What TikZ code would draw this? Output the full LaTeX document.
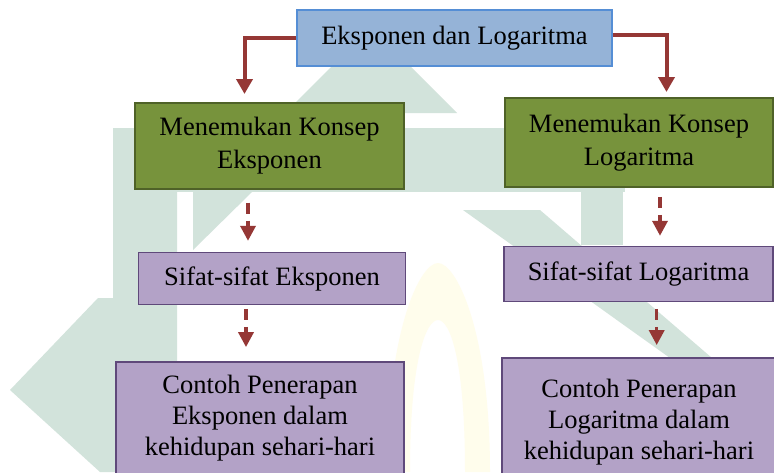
\documentclass[tikz,border=0pt]{standalone}
\usepackage{fontspec}
\setmainfont{Liberation Serif}
\usetikzlibrary{arrows.meta}
\definecolor{judulblue}{RGB}{149,179,215}
\definecolor{judulline}{RGB}{85,142,213}
\definecolor{konsepgreen}{RGB}{119,147,60}
\definecolor{konsepline}{RGB}{79,98,40}
\definecolor{sifatpurple}{RGB}{179,162,199}
\definecolor{sifatline}{RGB}{95,73,122}
\definecolor{panahred}{RGB}{149,55,53}
\definecolor{markteal}{RGB}{210,227,219}
\definecolor{markyellow}{RGB}{255,253,236}

\begin{document}
\begin{tikzpicture}[x=1pt,y=-1pt,
    kotak/.style={draw,line width=1.8pt,align=center,inner sep=0pt,font=\fontsize{26.5}{33}\selectfont},
    judul/.style={kotak,fill=judulblue,draw=judulline},
    konsep/.style={kotak,fill=konsepgreen,draw=konsepline},
    sifat/.style={kotak,fill=sifatpurple,draw=sifatline},
    contoh/.style={sifat,font=\fontsize{26.5}{31}\selectfont},
    panah/.style={draw=panahred,line width=4pt,-{Triangle[width=16pt,length=15pt]}},
    putus/.style={draw=panahred,line width=3.5pt,dash pattern=on 11pt off 7pt,-{Triangle[width=15pt,length=15pt]}}]
  \clip (0,0) rectangle (774,472);
  \fill[white] (0,0) rectangle (774,472);
  % watermark
  \fill[markteal] (285,113) -- (371,27) -- (457,113) -- cycle;
  \fill[markteal] (113,128) rectangle (625,192);
  \fill[markteal] (113,192) -- (177,192) -- (177,472) -- (100,472) -- (10,390) -- (98,298) -- (113,298) -- cycle;
  \fill[markteal] (193,192) -- (252,192) -- (193,250) -- cycle;
  \fill[markteal] (581,192) rectangle (623,245);
  \fill[markteal] (463,210) -- (540,210) -- (712,358) -- (670,358) -- cycle;
  \fill[markyellow] (387,472) .. controls (387,330) and (420,263) .. (438,263) .. controls (456,263) and (490,330) .. (490,472)
    -- (465,472) .. controls (465,360) and (450,320) .. (438,320) .. controls (426,320) and (410,360) .. (410,472) -- cycle;

  \node[judul, minimum width=315pt, minimum height=56pt] (judul) at (454.5,38) {Eksponen dan Logaritma};
  \node[konsep, minimum width=269pt, minimum height=86pt] (konsepL) at (269.5,146) {Menemukan Konsep\\Eksponen};
  \node[konsep, minimum width=268pt, minimum height=89pt] (konsepR) at (639,142.5) {Menemukan Konsep\\Logaritma};
  \node[sifat, minimum width=267pt, minimum height=52pt] (sifatL) at (272,278.5) {Sifat-sifat Eksponen};
  \node[sifat, minimum width=269pt, minimum height=55pt] (sifatR) at (638.5,274) {Sifat-sifat Logaritma};
  \node[contoh, minimum width=288pt, minimum height=113pt] (contohL) at (260,418.5) {Contoh Penerapan\\Eksponen dalam\\kehidupan sehari-hari};
  \node[contoh, minimum width=274pt, minimum height=128pt] (contohR) at (639,422) {Contoh Penerapan\\Logaritma dalam\\kehidupan sehari-hari};

  \coordinate (ujungL) at (244.5,94);
  \coordinate (ujungR) at (666.5,92);
  \draw[panah] (judul.west) -| (ujungL);
  \draw[panah] ([yshift=3pt]judul.east) -| (ujungR);

  \draw[putus, shorten <=12.7pt, shorten >=10.8pt] ([xshift=-21.5pt]konsepL.south) -- ([xshift=-21.5pt]konsepL.south |- sifatL.north);
  \draw[putus, shorten <=3.5pt, shorten >=14pt] ([xshift=-26pt]sifatL.south) -- ([xshift=-26pt]sifatL.south |- contohL.north);
  \draw[putus, shorten <=9pt, shorten >=9.8pt] ([xshift=21pt]konsepR.south) -- ([xshift=21pt]konsepR.south |- sifatR.north);
  \draw[putus, shorten <=6.5pt, shorten >=12pt] ([xshift=18.2pt]sifatR.south) -- ([xshift=18.2pt]sifatR.south |- contohR.north);
\end{tikzpicture}
\end{document}
